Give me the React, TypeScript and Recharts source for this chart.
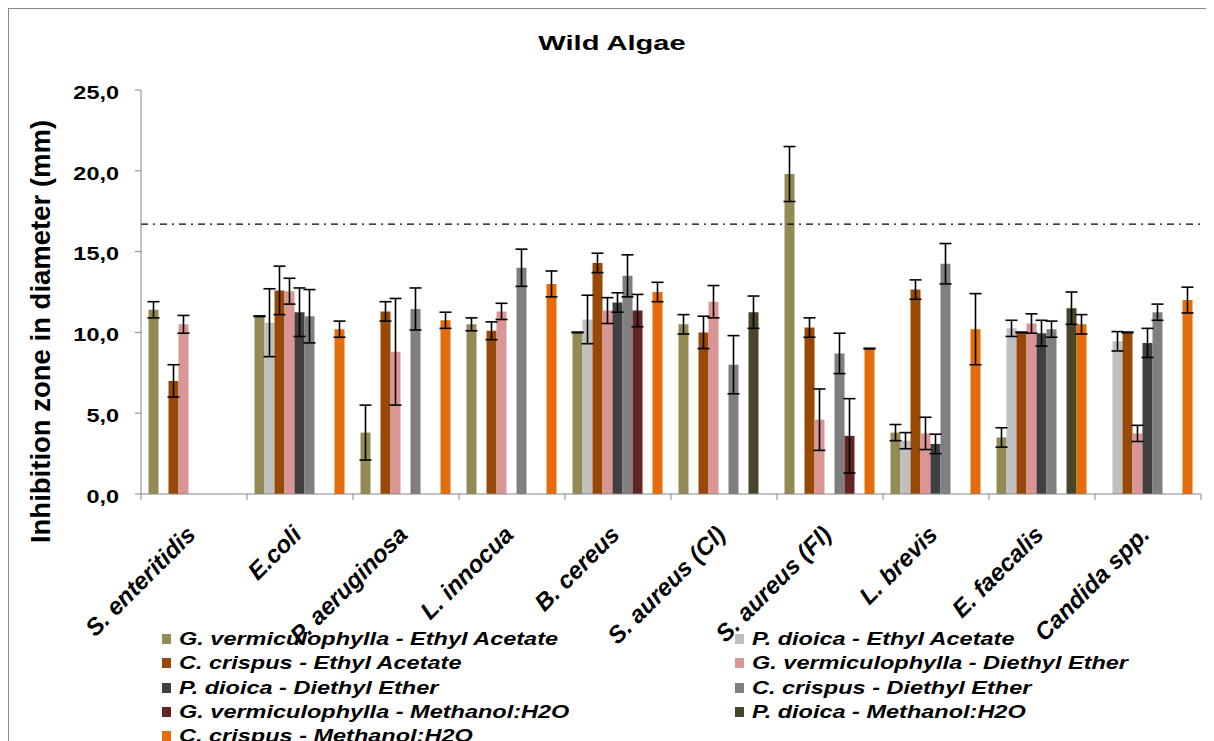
import React from 'react';
import {
  BarChart,
  Bar,
  XAxis,
  YAxis,
  Legend,
  ErrorBar,
  ReferenceLine,
} from 'recharts';

const CATEGORIES = [
  'S. enteritidis',
  'E.coli',
  'P. aeruginosa',
  'L. innocua',
  'B. cereus',
  'S. aureus (Cl)',
  'S. aureus (Fl)',
  'L. brevis',
  'E. faecalis',
  'Candida spp.',
];

const SERIES_NAMES = [
  'G. vermiculophylla - Ethyl Acetate',
  'P. dioica - Ethyl Acetate',
  'C. crispus - Ethyl Acetate',
  'G. vermiculophylla - Diethyl Ether',
  'P. dioica - Diethyl Ether',
  'C. crispus - Diethyl Ether',
  'G. vermiculophylla - Methanol:H2O',
  'P. dioica - Methanol:H2O',
  'C. crispus - Methanol:H2O',
];

const SERIES_COLORS = [
  '#948A54',
  '#BFBFBF',
  '#984807',
  '#D99694',
  '#404040',
  '#7F7F7F',
  '#632523',
  '#4A452A',
  '#E46C0A',
];

// mean inhibition zone (mm) per category
const G_VERM_EA = [11.4, 11.0, 3.8, 10.5, 10.0, 10.5, 19.8, 3.8, 3.5, 0];
const P_DIOICA_EA = [0, 10.6, 0, 0, 10.8, 0, 0, 3.3, 10.25, 9.45];
const C_CRISPUS_EA = [7.0, 12.6, 11.3, 10.1, 14.3, 10.0, 10.3, 12.65, 10.0, 10.0];
const G_VERM_DE = [10.5, 12.55, 8.8, 11.3, 11.35, 11.9, 4.6, 3.75, 10.55, 3.75];
const P_DIOICA_DE = [0, 11.25, 0, 0, 11.85, 0, 0, 3.1, 9.95, 9.35];
const C_CRISPUS_DE = [0, 11.0, 11.45, 14.0, 13.5, 8.0, 8.7, 14.25, 10.2, 11.25];
const G_VERM_MH = [0, 0, 0, 0, 11.35, 0, 3.6, 0, 0, 0];
const P_DIOICA_MH = [0, 0, 0, 0, 0, 11.25, 0, 0, 11.5, 0];
const C_CRISPUS_MH = [0, 10.2, 10.75, 13.0, 12.5, 0, 9.0, 10.2, 10.5, 12.0];

// standard deviations (null = no bar)
const G_VERM_EA_ERR = [0.5, 0.02, 1.7, 0.4, 0.02, 0.6, 1.7, 0.5, 0.6, null];
const P_DIOICA_EA_ERR = [null, 2.1, null, null, 1.5, null, null, 0.5, 0.5, 0.6];
const C_CRISPUS_EA_ERR = [1.0, 1.5, 0.6, 0.55, 0.6, 1.0, 0.6, 0.6, 0.02, 0.02];
const G_VERM_DE_ERR = [0.55, 0.8, 3.3, 0.5, 0.8, 1.0, 1.9, 1.0, 0.6, 0.5];
const P_DIOICA_DE_ERR = [null, 1.5, null, null, 0.6, null, null, 0.6, 0.8, 0.9];
const C_CRISPUS_DE_ERR = [null, 1.65, 1.3, 1.15, 1.3, 1.8, 1.25, 1.25, 0.5, 0.5];
const G_VERM_MH_ERR = [null, null, null, null, 1.0, null, 2.3, null, null, null];
const P_DIOICA_MH_ERR = [null, null, null, null, null, 1.0, null, null, 1.0, null];
const C_CRISPUS_MH_ERR = [null, 0.5, 0.5, 0.8, 0.6, null, 0.02, 2.2, 0.6, 0.8];

const Y_TICKS = [0, 5, 10, 15, 20, 25];
const THRESHOLD = 16.7;

const VALUES = [
  G_VERM_EA, P_DIOICA_EA, C_CRISPUS_EA,
  G_VERM_DE, P_DIOICA_DE, C_CRISPUS_DE,
  G_VERM_MH, P_DIOICA_MH, C_CRISPUS_MH,
];
const ERRORS = [
  G_VERM_EA_ERR, P_DIOICA_EA_ERR, C_CRISPUS_EA_ERR,
  G_VERM_DE_ERR, P_DIOICA_DE_ERR, C_CRISPUS_DE_ERR,
  G_VERM_MH_ERR, P_DIOICA_MH_ERR, C_CRISPUS_MH_ERR,
];

const rows = CATEGORIES.map((name, i) => {
  const row: Record<string, any> = { name };
  VALUES.forEach((vals, k) => {
    row[`v${k}`] = vals[i];
    const e = ERRORS[k][i];
    if (e != null) row[`e${k}`] = e;
  });
  return row;
});

const FONT = '"Liberation Sans", Arial, sans-serif';
const AXIS_COLOR = '#868686';

const CHART_W = 1198;
const CHART_H = 732;
const Y_AXIS_W = 132;
const MARGIN = { top: 81, right: 6, bottom: 0, left: 0 };
const BAND = (CHART_W - Y_AXIS_W - MARGIN.right - MARGIN.left) / CATEGORIES.length;

const fmt = (v: number) => v.toFixed(1).replace('.', ',');

const YTick = (props: any) => {
  const { x, y, payload } = props;
  return (
    <g transform={`translate(${x}, ${y}) scale(1.34, 1)`}>
      <text
        x={0}
        y={8.7}
        textAnchor="end"
        fontFamily={FONT}
        fontWeight="bold"
        fontSize={17.5}
        fill="#000"
      >
        {fmt(payload.value)}
      </text>
    </g>
  );
};

const XTick = (props: any) => {
  const { x, y, payload, index } = props;
  const lx = x + 3;
  const ly = y + 42;
  return (
    <g>
      <line x1={x - BAND / 2} y1={y} x2={x - BAND / 2} y2={y + 6} stroke={AXIS_COLOR} />
      {index === CATEGORIES.length - 1 && (
        <line x1={x + BAND / 2} y1={y} x2={x + BAND / 2} y2={y + 6} stroke={AXIS_COLOR} />
      )}
      <text
        x={lx}
        y={ly}
        transform={`rotate(-45, ${lx}, ${ly})`}
        textAnchor="end"
        fontFamily={FONT}
        fontWeight="bold"
        fontStyle="italic"
        fontSize={24}
        fill="#000"
      >
        {payload.value}
      </text>
    </g>
  );
};

const YAxisLabel = (props: any) => {
  const vb = props.viewBox || { x: 0, y: 0, height: 0 };
  const cx = vb.x + 41;
  const cy = vb.y + vb.height / 2 + 39.5;
  return (
    <text
      x={cx}
      y={cy}
      transform={`rotate(-90, ${cx}, ${cy})`}
      textAnchor="middle"
      fontFamily={FONT}
      fontWeight="bold"
      fontSize={27.5}
      fill="#000"
    >
      Inhibition zone in diameter (mm)
    </text>
  );
};

// keep the legend in series order (two columns, row by row)
const LegendContent = (props: any) => {
  const items = [...(props.payload || [])].sort(
    (a: any, b: any) => SERIES_NAMES.indexOf(a.value) - SERIES_NAMES.indexOf(b.value),
  );
  return (
    <div
      style={{
        display: 'grid',
        gridTemplateColumns: '573px 460px',
        gridAutoRows: '24.3px',
        paddingLeft: 153,
        height: 114,
        fontFamily: FONT,
      }}
    >
      {items.map((p: any) => (
        <div key={p.value} style={{ display: 'flex', alignItems: 'center', whiteSpace: 'nowrap' }}>
          <span style={{ width: 9, height: 10, background: p.color, marginRight: 8, flex: 'none' }} />
          <span
            style={{
              display: 'inline-block',
              fontSize: 18.5,
              lineHeight: '24.3px',
              fontWeight: 'bold',
              fontStyle: 'italic',
              color: '#000',
              transform: 'scaleX(1.27)',
              transformOrigin: 'left center',
            }}
          >
            {p.value}
          </span>
        </div>
      ))}
    </div>
  );
};

export default function App() {
  return (
    <div
      style={{
        position: 'relative',
        width: 1200,
        height: 733,
        boxSizing: 'border-box',
        border: '1px solid #898989',
        borderBottom: 'none',
        background: '#fff',
        fontFamily: FONT,
      }}
    >
      <style>{'html,body{overflow:hidden}'}</style>
      <div
        style={{
          position: 'absolute',
          top: 24,
          left: 0,
          width: 1206,
          textAlign: 'center',
          fontSize: 20.5,
          lineHeight: '20px',
          fontWeight: 'bold',
          color: '#000',
          transform: 'scaleX(1.42)',
          transformOrigin: '603px 0',
          zIndex: 1,
        }}
      >
        Wild Algae
      </div>
      <BarChart
        width={CHART_W}
        height={CHART_H}
        data={rows}
        margin={MARGIN}
        barCategoryGap={7.5}
        barGap={0}
      >
        <XAxis
          dataKey="name"
          interval={0}
          height={133}
          tickSize={0}
          tickMargin={0}
          tickLine={false}
          axisLine={{ stroke: AXIS_COLOR }}
          tick={<XTick />}
        />
        <YAxis
          width={Y_AXIS_W}
          domain={[0, 25]}
          ticks={Y_TICKS}
          interval={0}
          tickSize={6}
          tickMargin={16}
          axisLine={{ stroke: AXIS_COLOR }}
          tickLine={{ stroke: AXIS_COLOR }}
          tick={<YTick />}
          label={<YAxisLabel />}
        />
        <Legend
          verticalAlign="bottom"
          height={114}
          content={<LegendContent />}
          wrapperStyle={{ top: 618, left: 0, bottom: 'auto', width: CHART_W }}
        />
        {SERIES_NAMES.map((name, k) => (
          <Bar
            key={name}
            dataKey={`v${k}`}
            name={name}
            fill={SERIES_COLORS[k]}
            isAnimationActive={false}
          >
            <ErrorBar dataKey={`e${k}`} width={6} strokeWidth={1.6} stroke="#000" />
          </Bar>
        ))}
        <ReferenceLine
          y={THRESHOLD}
          stroke="#000"
          strokeWidth={1.4}
          strokeDasharray="7 5 2 5"
        />
      </BarChart>
    </div>
  );
}
